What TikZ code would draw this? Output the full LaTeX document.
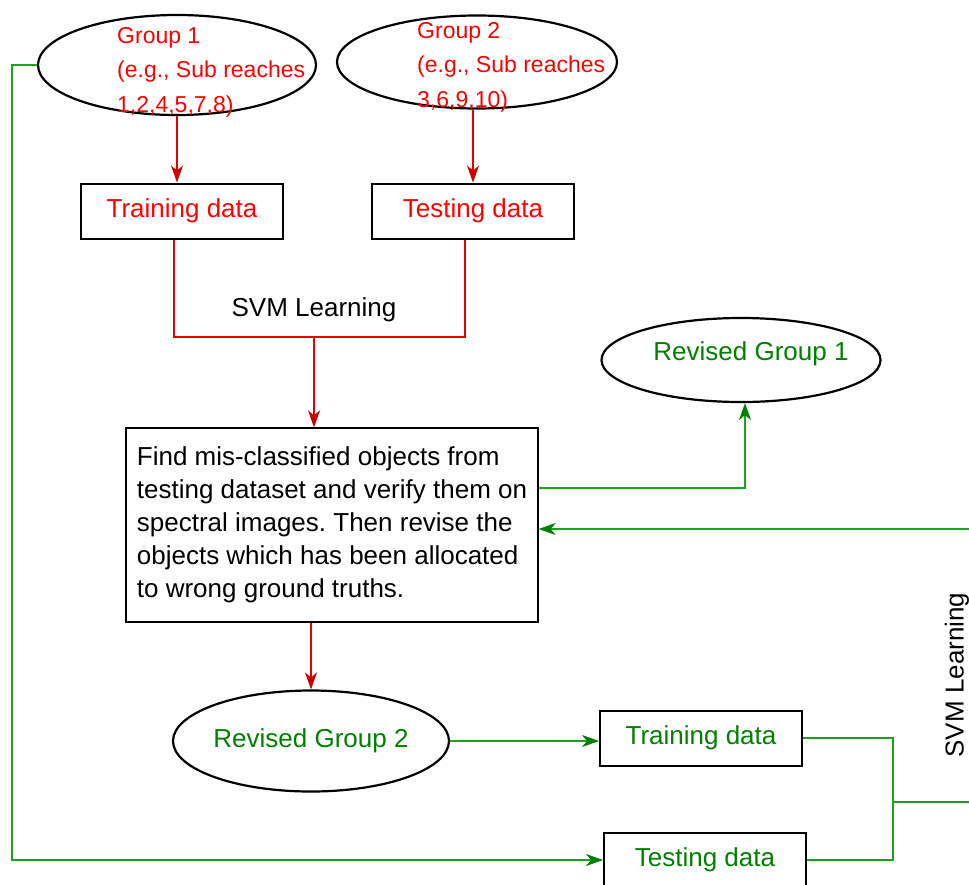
\documentclass[tikz,border=0pt]{standalone}
\usepackage{fontspec}
\setmainfont{Liberation Sans}
\usepackage{xcolor}
\usepackage{tikz}
\usetikzlibrary{calc, shapes.geometric, arrows.meta}

\definecolor{lred}{RGB}{232,0,0}
\definecolor{dred}{RGB}{205,0,0}
\definecolor{lgreen}{RGB}{25,165,25}
\definecolor{tgreen}{RGB}{0,128,0}

\frenchspacing
\begin{document}
\begin{tikzpicture}[
x=1pt, y=-1pt,
grp/.style={ellipse, draw, line width=2.2pt, inner sep=0pt},
box/.style={rectangle, draw, line width=2pt, minimum width=202pt, minimum height=55pt, inner sep=0pt},
big/.style={font=\fontsize{26}{33}\selectfont},
small/.style={font=\fontsize{23}{34.5}\selectfont},
redline/.style={draw=lred, line width=1.1pt},
greenline/.style={draw=lgreen, line width=1.1pt},
redarr/.style={redline, -{Stealth[length=17pt,width=12pt,inset=5pt,color=dred]}},
greenarr/.style={greenline, -{Stealth[length=17pt,width=12pt,inset=5pt,color=tgreen]}}
]
\useasboundingbox (0,0) rectangle (969,884);

\node (g1) at (177,65) [grp, minimum width=278pt, minimum height=100pt] {};
\node (g1txt) at (117,72) [anchor=west, small, text=red, align=left, inner sep=0pt] {Group 1\\(e.g., Sub reaches\\1,2,4,5,7,8)};
\node (g2) at (477,62) [grp, minimum width=280pt, minimum height=93pt] {};
\node (g2txt) at (417,67) [anchor=west, small, text=red, align=left, inner sep=0pt] {Group 2\\(e.g., Sub reaches\\3,6,9,10)};

\node (trn) at (182,211) [box, big, text=red] {Training data};
\node (tst) at (473,211) [box, big, text=red] {Testing data};

\coordinate (jr) at (314,337);
\node (svm1) at (jr) [above=15pt, big, inner sep=0pt] {SVM Learning};

\node (find) at (332,525) [rectangle, draw, line width=1.3pt, minimum width=412pt, minimum height=194pt, big, align=left, inner sep=0pt] {Find mis-classified objects from\\testing dataset and verify them on\\spectral images. Then revise the\\objects which has been allocated\\to wrong ground truths.};

\node (rg1) at (741,360) [grp, minimum width=279pt, minimum height=84pt, big, text=tgreen] {\smash{\makebox[0pt]{\hspace{20pt}Revised Group 1}}};
\node (rg2) at (311,741) [grp, minimum width=276pt, minimum height=101pt, big, text=tgreen] {Revised Group 2};

\node (trn2) at (701,738) [box, big, text=tgreen] {Training data};
\node (tst2) at (705,860) [box, big, text=tgreen] {Testing data};

\coordinate (lft) at (12,65);
\coordinate (jg) at (893,802);
\coordinate (rtop) at (969,529);
\coordinate (rbot) at (969,802);
\node (svm2) at (957,675) [rotate=90, big, inner sep=0pt] {SVM Learning};

\draw [redarr] (g1.south) -- (g1.south |- trn.north);
\draw [redarr] (g2.south -| tst.north) -- (tst.north);
\draw [redline] ([xshift=-8pt]trn.south) |- (jr) -| ([xshift=-8pt]tst.south);
\draw [redarr] (jr) -- (jr |- find.north);
\draw [redarr, line width=1.4pt] (rg2.north |- find.south) -- (rg2.north);

\draw [greenarr] ([yshift=37pt]find.east) -| ([xshift=4pt]rg1.south);
\draw [greenarr] (rtop) -- (rtop -| find.east);
\draw [greenarr] (rg2.east) -- (rg2.east -| trn2.west);
\draw [greenarr] (g1.west) -- (lft) |- (tst2.west);
\draw [greenline] (trn2.east) -| (jg) |- (tst2.east);
\draw [greenline] (jg) -- (rbot);
\end{tikzpicture}
\end{document}
